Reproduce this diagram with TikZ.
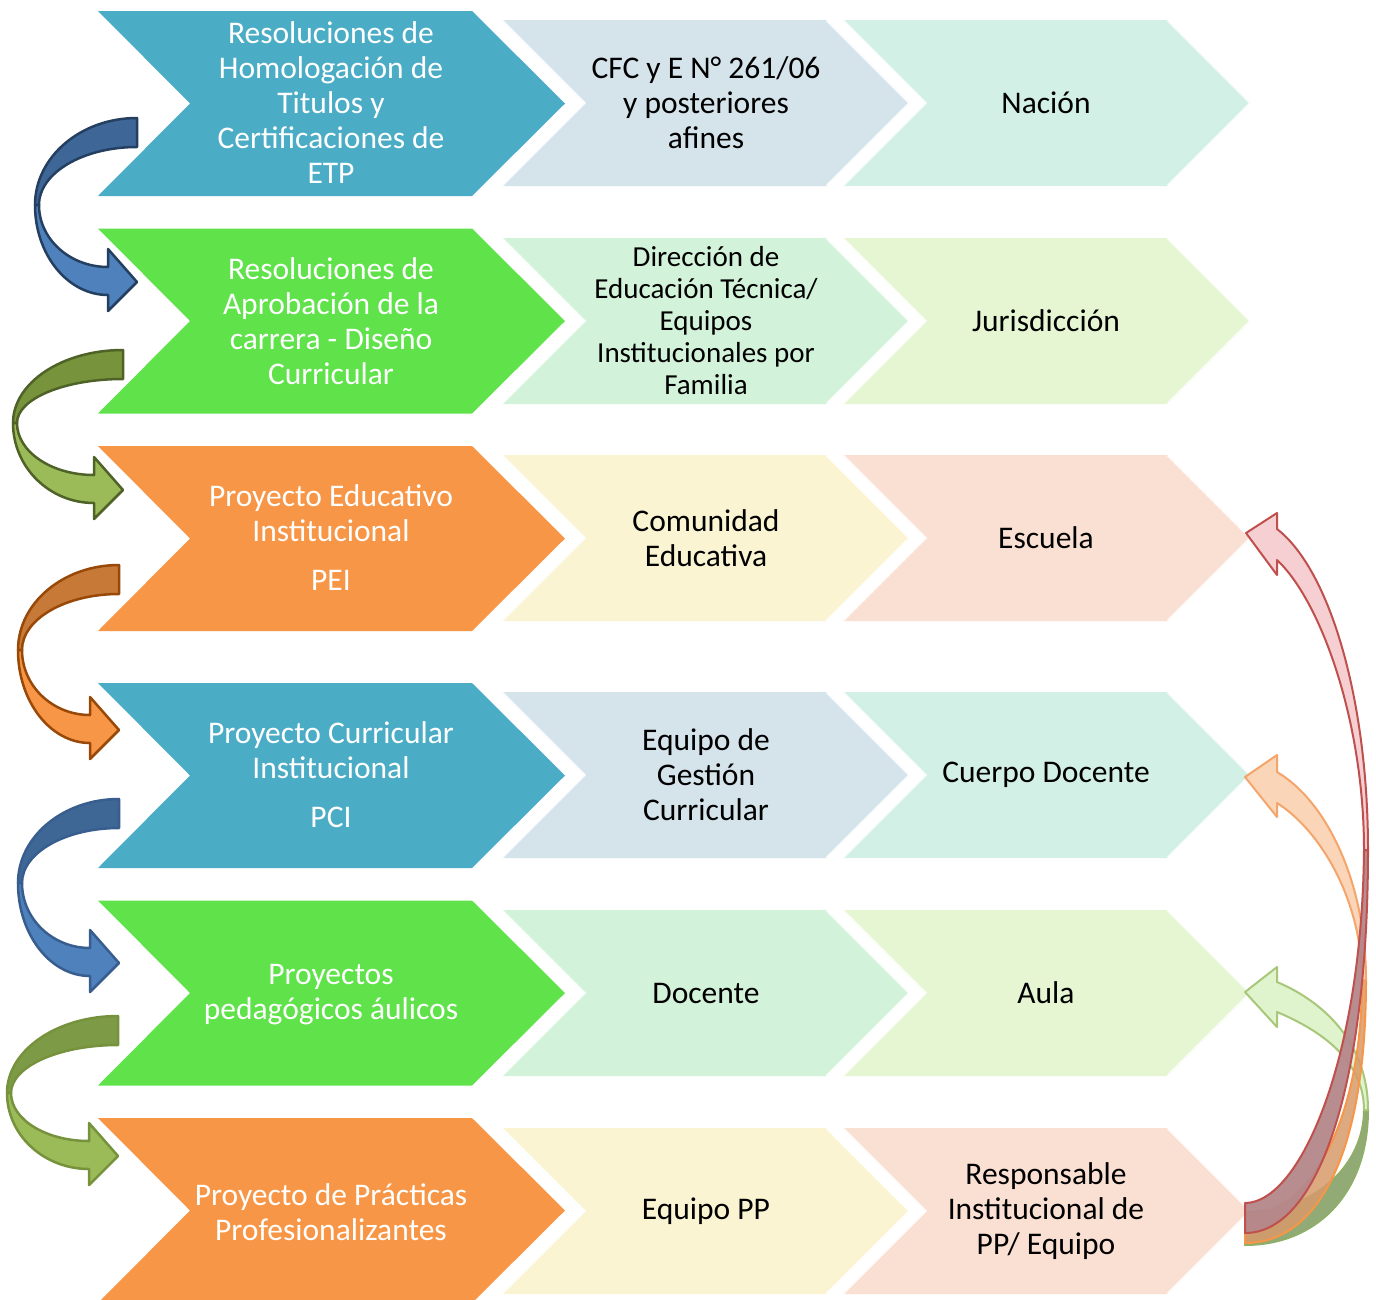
\documentclass[tikz,border=0pt]{standalone}
\usepackage{fontspec}
\setmainfont{Carlito}
\definecolor{cblue}{HTML}{4BACC6}
\definecolor{cgreen}{HTML}{5FE24A}
\definecolor{corange}{HTML}{F79646}
\definecolor{lblueA}{HTML}{D5E3EB}
\definecolor{lblueB}{HTML}{D2F0E5}
\definecolor{lgreenA}{HTML}{D2F2DA}
\definecolor{lgreenB}{HTML}{E6F6D3}
\definecolor{lorangeA}{HTML}{FAF4D2}
\definecolor{lorangeB}{HTML}{FADFD3}
\definecolor{ublueD}{HTML}{3E6797}
\definecolor{ublueL}{HTML}{4F81BD}
\definecolor{ublueO}{HTML}{243F60}
\definecolor{ublueOb}{HTML}{375E8E}
\definecolor{ublueDb}{HTML}{3F6795}
\definecolor{uoliveD}{HTML}{77933C}
\definecolor{uoliveDb}{HTML}{7D9A47}
\definecolor{uoliveL}{HTML}{9BBB59}
\definecolor{uoliveO}{HTML}{4F6228}
\definecolor{uoliveOb}{HTML}{76923C}
\definecolor{uorangeD}{HTML}{C77A38}
\definecolor{uorangeL}{HTML}{F79646}
\definecolor{uorangeO}{HTML}{984807}
\definecolor{rgreenBack}{HTML}{7F9C5E}
\definecolor{rgreenBackO}{HTML}{8FAE6A}
\definecolor{rgreenFront}{HTML}{D8F0C0}
\definecolor{rgreenFrontO}{HTML}{A8C77A}
\definecolor{rorangeBack}{HTML}{D79A6B}
\definecolor{rorangeBackO}{HTML}{F79646}
\definecolor{rorangeFront}{HTML}{FBCBA5}
\definecolor{rorangeFrontO}{HTML}{F4A56B}
\definecolor{rredBack}{HTML}{B5878B}
\definecolor{rredFront}{HTML}{F4C7C9}
\definecolor{rredO}{HTML}{C0504D}
\tikzset{
  bigtxt/.style={text=white, align=center, font=\fontsize{31.5}{35}\selectfont, inner sep=0pt},
  lighttxt/.style={text=black, align=center, font=\fontsize{31.5}{35}\selectfont, inner sep=0pt},
  smalltxt/.style={text=black, align=center, font=\fontsize{29}{32}\selectfont, inner sep=0pt},
  rline/.style={line width=2pt, line join=round}
}
\newcommand\bigchev[2]{%
  \fill[#2] (98,#1-92.5) -- (472,#1-92.5) -- (565,#1) -- (472,#1+92.5) -- (98,#1+92.5) -- (190,#1) -- cycle;}
\newcommand\lightchev[3]{%
  \fill[#3] (#1,#2-83) -- (#1+326,#2-83) -- (#1+409,#2) -- (#1+326,#2+83) -- (#1,#2+83) -- (#1+83,#2) -- cycle;
  \draw[white, line width=3pt, line join=miter, opacity=0.9] (#1+326,#2-83) -- (#1+409,#2) -- (#1+326,#2+83) (#1,#2-83) -- (#1+83,#2) -- (#1,#2+83);}
% x0 y0 W H1 H2 dark light line
\newcommand\uturn[8]{%
  \begin{scope}[shift={(#1,#2)}]
  \filldraw[fill=#6, draw=#8, line width=2.5pt, line join=round]
    (0,0) .. controls ({-0.552*#3},0) and (-#3,{#4*0.448}) .. (-#3,#4)
    -- ({-#3+4},#4) .. controls ({-#3+4},{#4-0.552*(#4-29)}) and ({-0.552*(#3-4)},29) .. (0,29) -- cycle;
  \filldraw[fill=#7, draw=#8, line width=2.5pt, line join=round]
    (-#3,#4) .. controls (-#3,{#4+0.552*(#5+13-#4)}) and ({-29-0.552*(#3-29)},{#5+13}) .. (-29,{#5+13})
    -- (-29,{#5+29}) -- (0,#5) -- (-29,{#5-33}) -- (-29,{#5-15})
    .. controls ({-29-0.552*(#3-33)},{#5-15}) and ({-#3+4},{#4+0.552*(#5-15-#4)}) .. ({-#3+4},#4) -- cycle;
  \end{scope}}
\begin{document}
\begin{tikzpicture}[x=1pt,y=-1pt]
\useasboundingbox (0,0) rectangle (1376,1299);
\clip (0,0) rectangle (1376,1299);
\fill[white] (0,0) rectangle (1376,1299);

% light chevrons
\lightchev{842}{103}{lblueB}
\lightchev{501}{103}{lblueA}
\lightchev{842}{321}{lgreenB}
\lightchev{501}{321}{lgreenA}
\lightchev{842}{538}{lorangeB}
\lightchev{501}{538}{lorangeA}
\lightchev{842}{775}{lblueB}
\lightchev{501}{775}{lblueA}
\lightchev{842}{993}{lgreenB}
\lightchev{501}{993}{lgreenA}
\lightchev{842}{1211}{lorangeB}
\lightchev{501}{1211}{lorangeA}

% big chevrons
\bigchev{103.5}{cblue}
\bigchev{321}{cgreen}
\bigchev{538.5}{corange}
\bigchev{775.5}{cblue}
\bigchev{993}{cgreen}
\bigchev{1210.5}{corange}

% texts
\node[bigtxt] (b1) at (331,103) {Resoluciones de\\Homologación de\\Titulos y\\Certificaciones de\\ETP};
\node[bigtxt] (b2) at (331,321) {Resoluciones de\\Aprobación de la\\carrera - Diseño\\Curricular};
\node[bigtxt] (b3) at (331,538) {Proyecto Educativo\\Institucional\\[14pt]PEI};
\node[bigtxt] (b4) at (331,775) {Proyecto Curricular\\Institucional\\[14pt]PCI};
\node[bigtxt] (b5) at (331,995) {Proyectos\\pedagógicos áulicos};
\node[bigtxt] (b6) at (331,1212) {Proyecto de Prácticas\\Profesionalizantes};

\node[lighttxt] (m1) at (706,103) {CFC y E N° 261/06\\y posteriores\\afines};
\node[smalltxt] (m2) at (706,321) {Dirección de\\Educación Técnica/\\Equipos\\Institucionales por\\Familia};
\node[lighttxt] (m3) at (706,538) {Comunidad\\Educativa};
\node[lighttxt] (m4) at (706,775) {Equipo de\\Gestión\\Curricular};
\node[lighttxt] (m5) at (706,993) {Docente};
\node[lighttxt] (m6) at (706,1211) {Equipo PP};

\node[lighttxt] (t1) at (1046,103) {Nación};
\node[lighttxt] (t2) at (1046,321) {Jurisdicción};
\node[lighttxt] (t3) at (1046,538) {Escuela};
\node[lighttxt] (t4) at (1046,775) {Cuerpo Docente};
\node[lighttxt] (t5) at (1046,993) {Aula};
\node[lighttxt] (t6) at (1046,1211) {Responsable\\Institucional de\\PP/ Equipo};

% left u-turn arrows
\uturn{137}{118}{102}{87}{164}{ublueD}{ublueL}{ublueO}
\uturn{123}{350}{110}{73}{140}{uoliveD}{uoliveL}{uoliveO}
\uturn{119}{565}{101}{85}{165}{uorangeD}{uorangeL}{uorangeO}
\uturn{119}{799}{101}{84}{164}{ublueDb}{ublueL}{ublueOb}
\uturn{118}{1016}{111}{77}{140}{uoliveDb}{uoliveL}{uoliveOb}

% right arrows: green
\filldraw[rline, fill=rgreenBack, fill opacity=0.85, draw=rgreenBackO]
  (1368,1110) .. controls (1368,1195) and (1315,1245) .. (1245,1245)
  -- (1245,1212) .. controls (1315,1212) and (1364,1165) .. (1364,1110) -- cycle;
\filldraw[rline, fill=rgreenFront, fill opacity=0.8, draw=rgreenFrontO]
  (1364,1110) .. controls (1364,1060) and (1320,1030) .. (1277,1012)
  -- (1277,1027) -- (1245,992) -- (1277,967) -- (1277,982)
  .. controls (1320,1000) and (1368,1040) .. (1368,1110) -- cycle;
% orange
\filldraw[rline, fill=rorangeBack, fill opacity=0.85, draw=rorangeBackO]
  (1366,980) .. controls (1366,1150) and (1320,1243) .. (1245,1243)
  -- (1245,1215) .. controls (1310,1215) and (1362,1120) .. (1362,980) -- cycle;
\filldraw[rline, fill=rorangeFront, fill opacity=0.8, draw=rorangeFrontO]
  (1362,980) .. controls (1362,900) and (1320,830) .. (1277,803)
  -- (1277,817) -- (1245,777) -- (1277,755) -- (1277,772)
  .. controls (1325,800) and (1366,880) .. (1366,980) -- cycle;
% red
\filldraw[rline, fill=rredBack, fill opacity=0.95, draw=rredO]
  (1368,850) .. controls (1368,1080) and (1320,1233) .. (1245,1233)
  -- (1245,1203) .. controls (1300,1203) and (1362,1060) .. (1364,850) -- cycle;
\filldraw[rline, fill=rredFront, fill opacity=0.85, draw=rredO]
  (1364,850) .. controls (1364,720) and (1320,600) .. (1277,560)
  -- (1277,575) -- (1246,533) -- (1277,513) -- (1277,529)
  .. controls (1330,570) and (1368,700) .. (1368,850) -- cycle;
\end{tikzpicture}
\end{document}
